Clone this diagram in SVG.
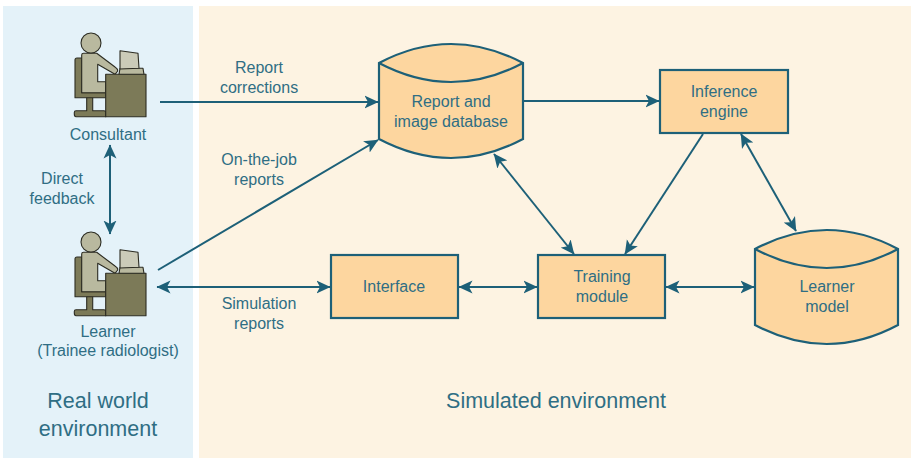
<svg xmlns="http://www.w3.org/2000/svg" xmlns:xlink="http://www.w3.org/1999/xlink" width="912" height="458" viewBox="0 0 912 458">
<style>
text{font-family:"Liberation Sans",Arial,sans-serif;fill:#2f6e84;text-anchor:middle;font-size:16px}
.big{font-size:21.5px}
.box{fill:#fdd69f;stroke:#1d6078;stroke-width:2.2}
.c{fill:none;stroke:#1d6078;stroke-width:2}
.k{stroke:#2c2c22;stroke-width:1.1;stroke-linejoin:round}
.d{fill:#7c7a58}
.l{fill:#b9b99f}
</style>
<defs>
<marker id="a" markerUnits="userSpaceOnUse" markerWidth="15" markerHeight="14" refX="13.5" refY="7" orient="auto-start-reverse"><path d="M0 0.5L14 7L0 13.5L3.5 7Z" fill="#1d6078"/></marker>
<g id="person">
<path class="k d" d="M86.7 97H92.7V110.7H104Q105.7 110.7 105.7 112V116.7H76Q74.3 116.7 74.3 114V112.5Q74.3 110.7 76 110.7H86.7Z"/>
<path class="k d" d="M81.7 58H77Q75 58 75 60V97.7H105.7V92.7H81.7Z"/>
<path class="k l" d="M81.7 55Q81.7 53.3 83.5 53.3H96.7L115 67Q118 69 117.7 71L115 74.3L97.7 64.3V81.7H105.7V92.7H81.7Z"/>
<circle class="k l" cx="91" cy="43" r="10"/>
<rect class="k d" x="105.7" y="74.3" width="40.3" height="42.4"/>
<path class="k l" d="M120 68.3H143L144 74.3H119Z" stroke-width="0.7"/>
<path class="k" d="M120 50.7L138 53.3L139 68.3L120 69Z" fill="#cbcbb8"/>
</g>
</defs>
<rect x="3" y="6" width="190" height="452" fill="#e4f2f9"/>
<rect x="199" y="6" width="712" height="452" fill="#fdf3e2"/>
<g id="connectors">
<path class="c" marker-end="url(#a)" d="M160 102H378"/>
<path class="c" marker-end="url(#a)" d="M158 270L378 140"/>
<path class="c" marker-start="url(#a)" marker-end="url(#a)" d="M110 145V234"/>
<path class="c" marker-start="url(#a)" marker-end="url(#a)" d="M157 287H330"/>
<path class="c" marker-end="url(#a)" d="M523 101H659"/>
<path class="c" marker-start="url(#a)" marker-end="url(#a)" d="M494 154L574 254"/>
<path class="c" marker-end="url(#a)" d="M703 134L625 254"/>
<path class="c" marker-start="url(#a)" marker-end="url(#a)" d="M741 134L796 231"/>
<path class="c" marker-start="url(#a)" marker-end="url(#a)" d="M459 287H537"/>
<path class="c" marker-start="url(#a)" marker-end="url(#a)" d="M666 287H754"/>
</g>
<g id="consultant">
<use xlink:href="#person" href="#person"/>
<text x="108" y="139.5">Consultant</text>
</g>
<g id="learner">
<use xlink:href="#person" href="#person" y="199"/>
<text x="108" y="336.5">Learner</text>
<text x="108" y="355.5">(Trainee radiologist)</text>
</g>
<g id="direct-feedback"><text x="62" y="183.5">Direct</text><text x="62" y="203.5">feedback</text></g>
<g id="report-corrections"><text x="259" y="72.5">Report</text><text x="259" y="92.5">corrections</text></g>
<g id="on-the-job"><text x="259" y="164.5">On-the-job</text><text x="259" y="184.5">reports</text></g>
<g id="simulation-reports"><text x="259" y="308.5">Simulation</text><text x="259" y="328.5">reports</text></g>
<g id="database">
<path class="box" d="M379 63Q451 25 523 63V139Q451 177 379 139Z"/>
<path class="box" d="M379 63Q451 101 523 63" fill="none"/>
<text x="451" y="106.5">Report and</text><text x="451" y="126.5">image database</text>
</g>
<g id="inference"><rect class="box" x="660" y="70" width="128" height="63"/><text x="724" y="96.5">Inference</text><text x="724" y="116.5">engine</text></g>
<g id="interface"><rect class="box" x="331" y="255" width="127" height="63"/><text x="394" y="291.5">Interface</text></g>
<g id="training"><rect class="box" x="538" y="255" width="127" height="63"/><text x="602" y="281.5">Training</text><text x="602" y="301.5">module</text></g>
<g id="learner-model">
<path class="box" d="M755 249Q827 211 898 249V325Q827 363 755 325Z"/>
<path class="box" d="M755 249Q827 287 898 249" fill="none"/>
<text x="827" y="291.5">Learner</text><text x="827" y="311.5">model</text>
</g>
<g id="env-labels">
<text class="big" x="98" y="408">Real world</text><text class="big" x="98" y="435.5">environment</text>
<text class="big" x="556" y="407.5">Simulated environment</text>
</g>
</svg>
